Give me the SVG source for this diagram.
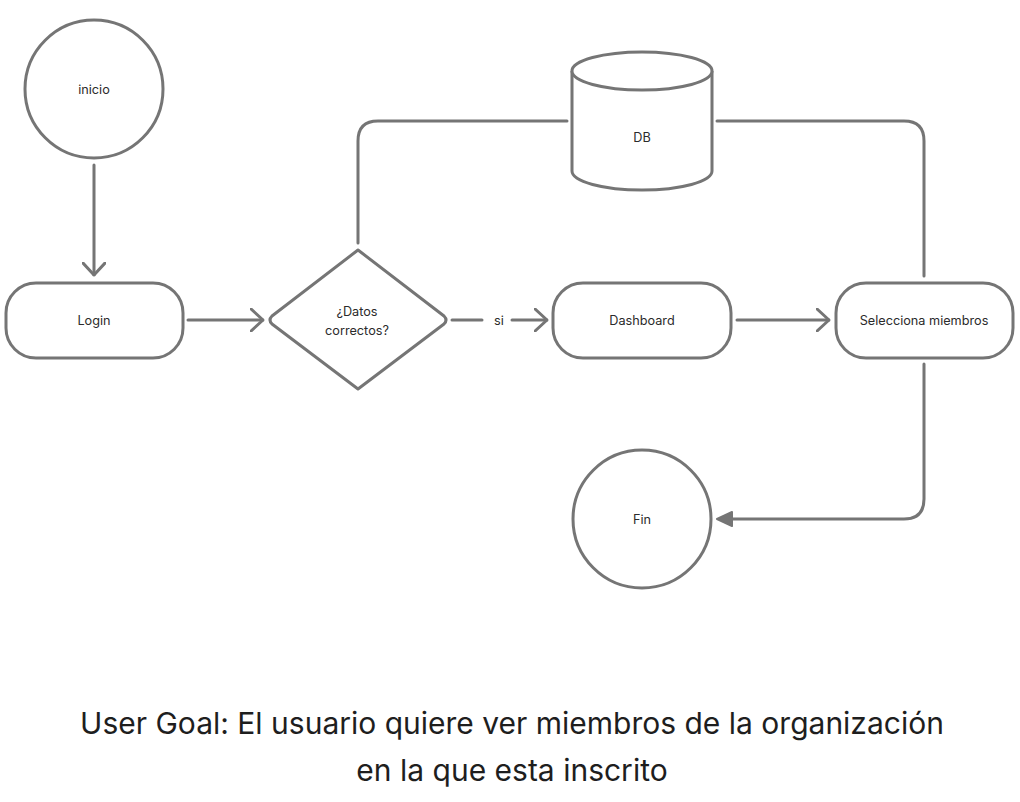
<svg xmlns="http://www.w3.org/2000/svg" width="1020" height="802" viewBox="0 0 1020 802">
<style>
.s{fill:#fff;stroke:#757575;stroke-width:3}
.c{fill:none;stroke:#757575;stroke-width:3;stroke-linecap:round;stroke-linejoin:round}
.t{font-family:Inter,"Noto Sans",sans-serif;font-size:12.7px;fill:#2b2b2b;text-anchor:middle}
.h{font-family:Inter,"Noto Sans",sans-serif;font-size:30px;fill:#1e1e1e;text-anchor:middle}
</style>
<defs>
<marker id="open" viewBox="0 0 14 24" refX="13" refY="12" markerWidth="14" markerHeight="24" markerUnits="userSpaceOnUse" orient="auto">
<path d="M1,1 L13,12 L1,23" fill="none" stroke="#757575" stroke-width="3" stroke-linecap="round" stroke-linejoin="round"/>
</marker>
</defs>
<rect width="1020" height="802" fill="#fff"/>
<g id="connectors">
<path class="c" d="M94,165 L94,275" marker-end="url(#open)"/>
<path class="c" d="M188,320 L263,320" marker-end="url(#open)"/>
<path class="c" d="M452,320 L482,320"/>
<path class="c" d="M512,320 L547,320" marker-end="url(#open)"/>
<text class="t" x="499" y="325">si</text>
<path class="c" d="M737,320 L829,320" marker-end="url(#open)"/>
<path class="c" d="M358,243 L358,141 Q358,121 378,121 L567,121"/>
<path class="c" d="M717,121 L904,121 Q924,121 924,141 L924,276"/>
<path class="c" d="M924,364 L924,499 Q924,519 904,519 L733,519"/>
<path d="M732,512 L717,519 L732,526 Z" fill="#757575" stroke="#757575" stroke-width="2" stroke-linejoin="round"/>
</g>
<g id="inicio">
<circle class="s" cx="94" cy="89" r="69"/>
<text class="t" x="94" y="94">inicio</text>
</g>
<g id="login">
<rect class="s" x="6" y="283" width="177" height="75" rx="30"/>
<text class="t" x="94" y="325">Login</text>
</g>
<g id="datos">
<path class="s" d="M358,250 L444,316 Q448,320 444,324 L358,389 L272,324 Q268,320 272,316 Z" stroke-linejoin="round"/>
<text class="t" x="357" y="316">¿Datos</text>
<text class="t" x="357" y="335">correctos?</text>
</g>
<g id="db">
<path class="s" d="M572,71 L572,171 A70,19 0 0 0 712,171 L712,71"/>
<ellipse class="s" cx="642" cy="71" rx="70" ry="19"/>
<text class="t" x="642" y="142">DB</text>
</g>
<g id="dashboard">
<rect class="s" x="553" y="283" width="178" height="75" rx="30"/>
<text class="t" x="642" y="325">Dashboard</text>
</g>
<g id="selecciona">
<rect class="s" x="836" y="283" width="177" height="75" rx="30"/>
<text class="t" x="924" y="325">Selecciona miembros</text>
</g>
<g id="fin">
<circle class="s" cx="642" cy="519" r="69"/>
<text class="t" x="642" y="524">Fin</text>
</g>
<g id="title">
<text class="h" x="512" y="734">User Goal: El usuario quiere ver miembros de la organización</text>
<text class="h" x="512" y="781">en la que esta inscrito</text>
</g>
</svg>
